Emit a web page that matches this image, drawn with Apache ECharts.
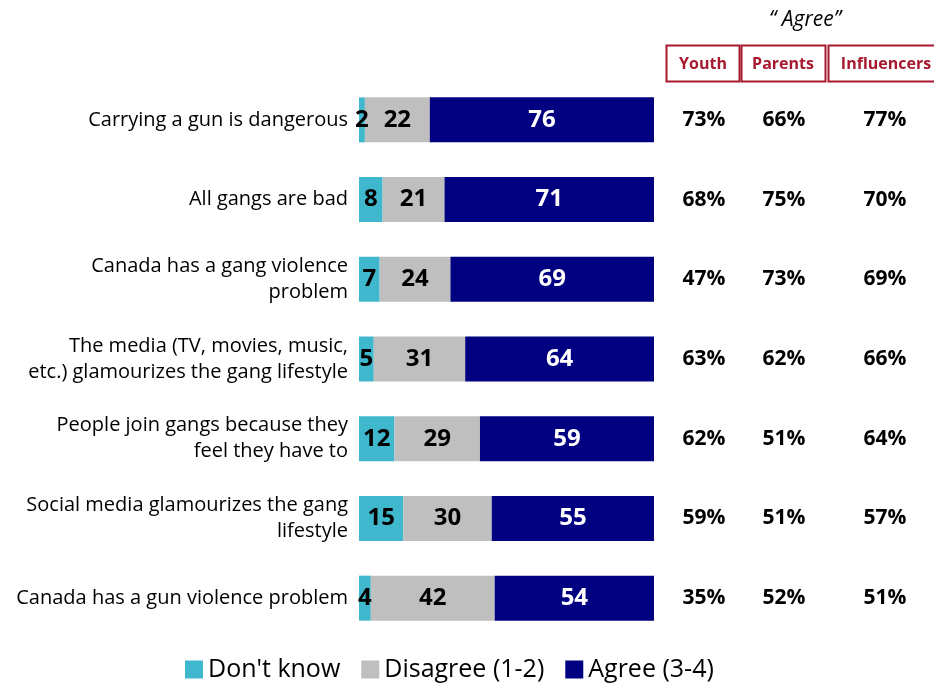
<!DOCTYPE html>
<html>
<head>
<meta charset="utf-8">
<script src="https://cdn.jsdelivr.net/npm/echarts@6/dist/echarts.min.js"></script>
<style>
  html, body { margin: 0; padding: 0; background: #fff; }
  #chart { width: 934px; height: 686px; }
</style>
</head>
<body>
<div id="chart"></div>
<script>
// Statements shown on the left
const statements = [
  'Carrying a gun is dangerous',
  'All gangs are bad',
  'Canada has a gang violence\nproblem',
  'The media (TV, movies, music,\netc.) glamourizes the gang lifestyle',
  'People join gangs because they\nfeel they have to',
  'Social media glamourizes the gang\nlifestyle',
  'Canada has a gun violence problem'
];

// Percent of all respondents
const dontKnow = [2, 8, 7, 5, 12, 15, 4];
const disagree = [22, 21, 24, 31, 29, 30, 42];
const agree = [76, 71, 69, 64, 59, 55, 54];

// "Agree" by audience
const groups = ['Youth', 'Parents', 'Influencers'];
const youthAgree = [73, 68, 47, 63, 62, 59, 35];
const parentsAgree = [66, 75, 73, 62, 51, 51, 52];
const influencersAgree = [77, 70, 69, 66, 64, 57, 51];

const FONT = '"Open Sans", "Noto Sans", sans-serif';
const RED = '#A6192E';

const chart = echarts.init(document.getElementById('chart'));

function barSeries(name, data, color, labelColor) {
  return {
    name: name,
    type: 'bar',
    stack: 'total',
    data: data,
    barWidth: 45,
    itemStyle: { color: color },
    label: {
      show: true,
      position: 'inside',
      color: labelColor,
      fontFamily: FONT,
      fontWeight: 'bold',
      fontSize: 24
    },
    emphasis: { disabled: true }
  };
}

const pctStyle = { align: 'center', fontFamily: FONT, fontWeight: 'bold', fontSize: 21, color: '#000' };

chart.setOption({
  animation: false,
  grid: { left: 359, top: 80, width: 295, height: 558 },
  xAxis: {
    type: 'value', min: 0, max: 100,
    show: false
  },
  yAxis: [
    {
      type: 'category',
      data: statements,
      inverse: true,
      axisLine: { show: false },
      axisTick: { show: false },
      axisLabel: {
        margin: 11,
        color: '#000',
        fontFamily: FONT,
        fontSize: 20,
        lineHeight: 26,
        align: 'right'
      }
    },
    {
      type: 'category',
      data: statements,
      inverse: true,
      position: 'right',
      offset: 10,
      axisLine: { show: false },
      axisTick: { show: false },
      axisLabel: {
        margin: 0,
        align: 'left',
        formatter: function (v, i) {
          return '{a|' + youthAgree[i] + '%}{b|' + parentsAgree[i] + '%}{c|' + influencersAgree[i] + '%}';
        },
        rich: {
          a: Object.assign({ width: 80 }, pctStyle),
          b: Object.assign({ width: 80 }, pctStyle),
          c: Object.assign({ width: 122 }, pctStyle)
        }
      }
    }
  ],
  legend: {
    top: 652,
    left: 180,
    itemWidth: 18,
    itemHeight: 18,
    itemGap: 21,
    icon: 'rect',
    selectedMode: false,
    textStyle: { fontFamily: FONT, fontSize: 25, color: '#000' },
    data: ["Don't know", 'Disagree (1-2)', 'Agree (3-4)']
  },
  series: [
    barSeries("Don't know", dontKnow, '#3FB8CD', '#000'),
    barSeries('Disagree (1-2)', disagree, '#BFBFBF', '#000'),
    barSeries('Agree (3-4)', agree, '#000080', '#fff')
  ],
  graphic: [
    {
      type: 'text',
      style: { x: 805, y: 20, text: '\u201C Agree\u201D', font: 'italic 21px ' + FONT, fill: '#000', align: 'center', verticalAlign: 'middle' }
    },
    { type: 'rect', shape: { x: 666.5, y: 45.5, width: 73, height: 36 }, style: { fill: 'none', stroke: RED, lineWidth: 2 } },
    { type: 'rect', shape: { x: 741.5, y: 45.5, width: 84, height: 36 }, style: { fill: 'none', stroke: RED, lineWidth: 2 } },
    { type: 'rect', shape: { x: 828.5, y: 45.5, width: 110, height: 36 }, style: { fill: 'none', stroke: RED, lineWidth: 2 } },
    { type: 'text', style: { x: 703, y: 64, text: groups[0], font: 'bold 16px ' + FONT, fill: RED, align: 'center', verticalAlign: 'middle' } },
    { type: 'text', style: { x: 783, y: 64, text: groups[1], font: 'bold 16px ' + FONT, fill: RED, align: 'center', verticalAlign: 'middle' } },
    { type: 'text', style: { x: 886, y: 64, text: groups[2], font: 'bold 16px ' + FONT, fill: RED, align: 'center', verticalAlign: 'middle' } }
  ]
});
</script>
</body>
</html>
